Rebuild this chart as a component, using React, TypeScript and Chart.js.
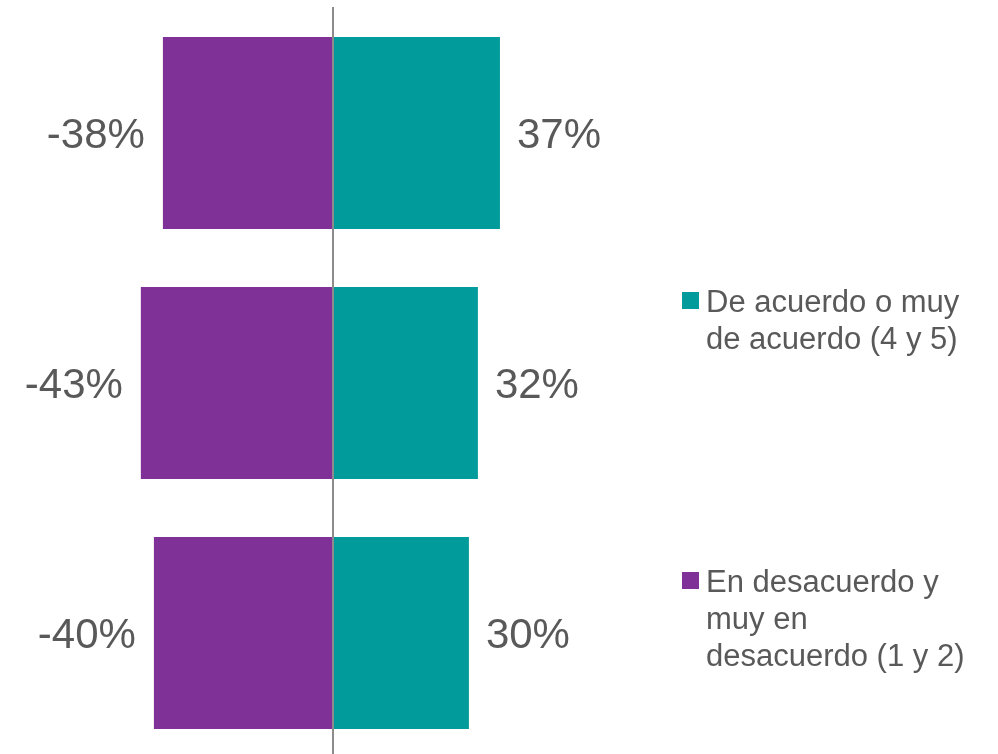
import React, { useEffect, useRef } from "react";
import { Chart, registerables } from "chart.js";

Chart.register(...registerables);

const categories = ["Item 1", "Item 2", "Item 3"];
const agreeValues = [37.1, 32.2, 30.2];
const disagreeValues = [-37.8, -42.7, -39.8];
const agreeLabel = ["De acuerdo o muy", "de acuerdo (4 y 5)"];
const disagreeLabel = ["En desacuerdo y", "muy en", "desacuerdo (1 y 2)"];

const TEAL = "#009B9A";
const PURPLE = "#803198";
const TEXT = "#595959";
const FONT = "'Liberation Sans', Arial, sans-serif";

const overlayPlugin = {
  id: "overlay",
  afterDatasetsDraw(chart: any) {
    const { ctx, chartArea, scales } = chart;
    const x0 = scales.x.getPixelForValue(0);
    ctx.save();
    ctx.strokeStyle = "#8C8C8C";
    ctx.lineWidth = 2;
    ctx.beginPath();
    ctx.moveTo(x0, chartArea.top - 1);
    ctx.lineTo(x0, chartArea.bottom);
    ctx.stroke();

    // data labels
    ctx.font = `42px ${FONT}`;
    ctx.fillStyle = TEXT;
    ctx.textBaseline = "alphabetic";
    chart.data.datasets.forEach((ds: any, di: number) => {
      const meta = chart.getDatasetMeta(di);
      meta.data.forEach((bar: any, i: number) => {
        const v = ds.data[i];
        const txt = `${Math.round(v)}%`;
        if (v < 0) {
          ctx.textAlign = "right";
          ctx.fillText(txt, bar.x - 18, bar.y + 15);
        } else {
          ctx.textAlign = "left";
          ctx.fillText(txt, bar.x + 17, bar.y + 15);
        }
      });
    });

    // legend
    const items = [
      { color: TEAL, lines: agreeLabel, top: 292 },
      { color: PURPLE, lines: disagreeLabel, top: 572 },
    ];
    ctx.font = `31px ${FONT}`;
    ctx.textAlign = "left";
    ctx.textBaseline = "alphabetic";
    items.forEach((it) => {
      ctx.fillStyle = it.color;
      ctx.fillRect(682, it.top, 17, 17);
      ctx.fillStyle = TEXT;
      it.lines.forEach((ln, k) => {
        ctx.fillText(ln, 706, it.top + 20 + k * 37);
      });
    });
    ctx.restore();
  },
};

export default function App() {
  const ref = useRef<HTMLCanvasElement>(null);
  useEffect(() => {
    if (!ref.current) return;
    const chart = new Chart(ref.current, {
      type: "bar",
      data: {
        labels: categories,
        datasets: [
          {
            label: disagreeLabel.join(" "),
            data: disagreeValues,
            backgroundColor: PURPLE,
            categoryPercentage: 1,
            barPercentage: 0.768,
          },
          {
            label: agreeLabel.join(" "),
            data: agreeValues,
            backgroundColor: TEAL,
            categoryPercentage: 1,
            barPercentage: 0.768,
          },
        ],
      },
      options: {
        indexAxis: "y",
        animation: false,
        responsive: false,
        maintainAspectRatio: false,
        layout: { padding: { top: 8, right: 332, left: 0, bottom: 0 } },
        plugins: { legend: { display: false }, tooltip: { enabled: false } },
        scales: {
          x: { stacked: true, min: -74, max: 74, display: false },
          y: { stacked: true, display: false },
        },
      },
      plugins: [overlayPlugin],
    });
    return () => chart.destroy();
  }, []);
  return (
    <div style={{ position: "fixed", left: 0, top: 0, width: 998, height: 758, background: "#fff" }}>
      <canvas ref={ref} width={998} height={758} style={{ width: 998, height: 758, display: "block" }} />
    </div>
  );
}
